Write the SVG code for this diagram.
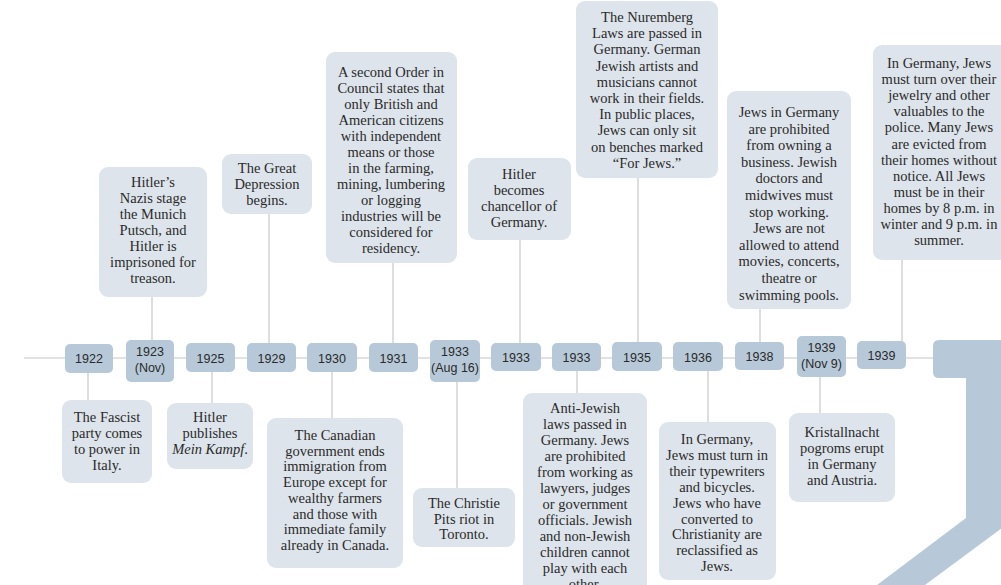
<svg xmlns="http://www.w3.org/2000/svg" width="1001" height="585" viewBox="0 0 1001 585">
<style>
.yr{fill:#b7c9d8}
.cb{fill:#dee4eb}
.yt{font-family:"Liberation Sans",Arial,sans-serif;font-size:12.5px;fill:#2a2a2a;text-anchor:middle}
.ct{font-family:"Liberation Serif","Times New Roman",serif;font-size:14.5px;fill:#2a2a2a;text-anchor:middle}
.ln{stroke:#d6d6d6;stroke-width:1.6;fill:none}
.tl{stroke:#e2e2e2;stroke-width:2;fill:none}
</style>
<rect width="1001" height="585" fill="#ffffff"/>
<g id="connectors">
<line class="tl" x1="24" y1="358" x2="934" y2="358"/>
<line class="ln" x1="152" y1="297" x2="152" y2="340"/>
<line class="ln" x1="269" y1="214" x2="269" y2="343"/>
<line class="ln" x1="393" y1="263" x2="393" y2="343"/>
<line class="ln" x1="520" y1="240" x2="520" y2="343"/>
<line class="ln" x1="638" y1="178" x2="638" y2="343"/>
<line class="ln" x1="760" y1="309" x2="760" y2="343"/>
<line class="ln" x1="902" y1="260" x2="902" y2="341"/>
<line class="ln" x1="88" y1="373" x2="88" y2="400"/>
<line class="ln" x1="212" y1="372" x2="212" y2="403"/>
<line class="ln" x1="332" y1="372" x2="332" y2="418"/>
<line class="ln" x1="457" y1="382" x2="457" y2="488"/>
<line class="ln" x1="577" y1="371" x2="577" y2="393"/>
<line class="ln" x1="708" y1="371" x2="708" y2="422"/>
<line class="ln" x1="820" y1="377" x2="820" y2="413"/>
</g>
<g id="arrow-shape">
<path class="yr" d="M939 340 L1010 340 L1010 522 L925 585 L877 585 L966 518 L966 378 L939 378 Q933 378 933 372 L933 346 Q933 340 939 340 Z"/>
</g>
<g id="y1922"><rect class="yr" x="65" y="344" width="48" height="29" rx="5"/><text class="yt" x="89" y="363">1922</text></g>
<g id="y1923"><rect class="yr" x="126" y="340" width="48" height="42" rx="5"/><text class="yt" x="150" y="356">1923</text><text class="yt" x="150" y="372">(Nov)</text></g>
<g id="y1925"><rect class="yr" x="186" y="343" width="49" height="29" rx="5"/><text class="yt" x="210.5" y="362.5">1925</text></g>
<g id="y1929"><rect class="yr" x="247" y="343" width="49" height="29" rx="5"/><text class="yt" x="271.5" y="362.5">1929</text></g>
<g id="y1930"><rect class="yr" x="307" y="343" width="50" height="29" rx="5"/><text class="yt" x="332" y="362.5">1930</text></g>
<g id="y1931"><rect class="yr" x="369" y="343" width="49" height="29" rx="5"/><text class="yt" x="393.5" y="362.5">1931</text></g>
<g id="y1933aug"><rect class="yr" x="430" y="340" width="50" height="42" rx="5"/><text class="yt" x="455" y="356">1933</text><text class="yt" x="455" y="372">(Aug 16)</text></g>
<g id="y1933a"><rect class="yr" x="491" y="343" width="50" height="28" rx="5"/><text class="yt" x="516" y="362">1933</text></g>
<g id="y1933b"><rect class="yr" x="552" y="343" width="49" height="28" rx="5"/><text class="yt" x="576.5" y="362">1933</text></g>
<g id="y1935"><rect class="yr" x="612" y="342" width="50" height="29" rx="5"/><text class="yt" x="637" y="361.5">1935</text></g>
<g id="y1936"><rect class="yr" x="673" y="342" width="50" height="29" rx="5"/><text class="yt" x="698" y="361.5">1936</text></g>
<g id="y1938"><rect class="yr" x="735" y="342" width="49" height="28" rx="5"/><text class="yt" x="759.5" y="361">1938</text></g>
<g id="y1939nov"><rect class="yr" x="797" y="336" width="49" height="41" rx="5"/><text class="yt" x="821.5" y="352">1939</text><text class="yt" x="821.5" y="368">(Nov 9)</text></g>
<g id="y1939"><rect class="yr" x="857" y="341" width="49" height="28" rx="5"/><text class="yt" x="881.5" y="360">1939</text></g>

<g id="e-munich"><rect class="cb" x="99" y="167" width="108" height="130" rx="9"/>
<text class="ct"><tspan x="153" y="187">Hitler’s</tspan><tspan x="153" y="203">Nazis stage</tspan><tspan x="153" y="219">the Munich</tspan><tspan x="153" y="235">Putsch, and</tspan><tspan x="153" y="251">Hitler is</tspan><tspan x="153" y="267">imprisoned for</tspan><tspan x="153" y="283">treason.</tspan></text></g>

<g id="e-depression"><rect class="cb" x="222" y="154" width="90" height="60" rx="9"/>
<text class="ct"><tspan x="267" y="173">The Great</tspan><tspan x="267" y="189">Depression</tspan><tspan x="267" y="205">begins.</tspan></text></g>

<g id="e-order"><rect class="cb" x="326" y="52" width="131" height="211" rx="9"/>
<text class="ct"><tspan x="391" y="77">A second Order in</tspan><tspan x="391" y="93">Council states that</tspan><tspan x="391" y="109">only British and</tspan><tspan x="391" y="125">American citizens</tspan><tspan x="391" y="141">with independent</tspan><tspan x="391" y="157">means or those</tspan><tspan x="391" y="173">in the farming,</tspan><tspan x="391" y="189">mining, lumbering</tspan><tspan x="391" y="205">or logging</tspan><tspan x="391" y="221">industries will be</tspan><tspan x="391" y="237">considered for</tspan><tspan x="391" y="253">residency.</tspan></text></g>

<g id="e-chancellor"><rect class="cb" x="468" y="158" width="103" height="82" rx="9"/>
<text class="ct"><tspan x="519" y="179">Hitler</tspan><tspan x="519" y="195">becomes</tspan><tspan x="519" y="211">chancellor of</tspan><tspan x="519" y="227">Germany.</tspan></text></g>

<g id="e-nuremberg"><rect class="cb" x="576" y="1" width="142" height="177" rx="9"/>
<text class="ct"><tspan x="647" y="22">The Nuremberg</tspan><tspan x="647" y="38.2">Laws are passed in</tspan><tspan x="647" y="54.4">Germany. German</tspan><tspan x="647" y="70.6">Jewish artists and</tspan><tspan x="647" y="86.8">musicians cannot</tspan><tspan x="647" y="103">work in their fields.</tspan><tspan x="647" y="119.2">In public places,</tspan><tspan x="647" y="135.4">Jews can only sit</tspan><tspan x="647" y="151.6">on benches marked</tspan><tspan x="647" y="167.8">“For Jews.”</tspan></text></g>

<g id="e-business"><rect class="cb" x="727" y="91" width="124" height="218" rx="9"/>
<text class="ct"><tspan x="789" y="117">Jews in Germany</tspan><tspan x="789" y="133.6">are prohibited</tspan><tspan x="789" y="150.2">from owning a</tspan><tspan x="789" y="166.8">business. Jewish</tspan><tspan x="789" y="183.4">doctors and</tspan><tspan x="789" y="200">midwives must</tspan><tspan x="789" y="216.6">stop working.</tspan><tspan x="789" y="233.2">Jews are not</tspan><tspan x="789" y="249.8">allowed to attend</tspan><tspan x="789" y="266.4">movies, concerts,</tspan><tspan x="789" y="283">theatre or</tspan><tspan x="789" y="299.6">swimming pools.</tspan></text></g>

<g id="e-jewelry"><rect class="cb" x="873" y="45" width="140" height="215" rx="9"/>
<text class="ct"><tspan x="939" y="68">In Germany, Jews</tspan><tspan x="939" y="84.1">must turn over their</tspan><tspan x="939" y="100.2">jewelry and other</tspan><tspan x="939" y="116.3">valuables to the</tspan><tspan x="939" y="132.4">police. Many Jews</tspan><tspan x="939" y="148.5">are evicted from</tspan><tspan x="939" y="164.6">their homes without</tspan><tspan x="939" y="180.7">notice. All Jews</tspan><tspan x="939" y="196.8">must be in their</tspan><tspan x="939" y="212.9">homes by 8 p.m. in</tspan><tspan x="939" y="229">winter and 9 p.m. in</tspan><tspan x="939" y="245.1">summer.</tspan></text></g>

<g id="e-fascist"><rect class="cb" x="62" y="400" width="90" height="83" rx="9"/>
<text class="ct"><tspan x="107" y="422">The Fascist</tspan><tspan x="107" y="438">party comes</tspan><tspan x="107" y="454">to power in</tspan><tspan x="107" y="470">Italy.</tspan></text></g>

<g id="e-kampf"><rect class="cb" x="167" y="403" width="86" height="66" rx="9"/>
<text class="ct"><tspan x="210" y="422">Hitler</tspan><tspan x="210" y="438">publishes</tspan><tspan x="210" y="454"><tspan font-style="italic">Mein Kampf</tspan>.</tspan></text></g>

<g id="e-canada"><rect class="cb" x="267" y="418" width="136" height="150" rx="9"/>
<text class="ct"><tspan x="335" y="440">The Canadian</tspan><tspan x="335" y="455.7">government ends</tspan><tspan x="335" y="471.4">immigration from</tspan><tspan x="335" y="487.1">Europe except for</tspan><tspan x="335" y="502.8">wealthy farmers</tspan><tspan x="335" y="518.5">and those with</tspan><tspan x="335" y="534.2">immediate family</tspan><tspan x="335" y="549.9">already in Canada.</tspan></text></g>

<g id="e-christie"><rect class="cb" x="413" y="488" width="102" height="59" rx="9"/>
<text class="ct"><tspan x="464" y="508">The Christie</tspan><tspan x="464" y="523.5">Pits riot in</tspan><tspan x="464" y="539">Toronto.</tspan></text></g>

<g id="e-antijewish"><rect class="cb" x="523" y="393" width="124" height="200" rx="9"/>
<text class="ct"><tspan x="585" y="413">Anti-Jewish</tspan><tspan x="585" y="429">laws passed in</tspan><tspan x="585" y="445">Germany. Jews</tspan><tspan x="585" y="461">are prohibited</tspan><tspan x="585" y="477">from working as</tspan><tspan x="585" y="493">lawyers, judges</tspan><tspan x="585" y="509">or government</tspan><tspan x="585" y="525">officials. Jewish</tspan><tspan x="585" y="541">and non-Jewish</tspan><tspan x="585" y="557">children cannot</tspan><tspan x="585" y="573">play with each</tspan><tspan x="585" y="589">other.</tspan></text></g>

<g id="e-typewriters"><rect class="cb" x="659" y="422" width="117" height="158" rx="9"/>
<text class="ct"><tspan x="717" y="444">In Germany,</tspan><tspan x="717" y="459.9">Jews must turn in</tspan><tspan x="717" y="475.8">their typewriters</tspan><tspan x="717" y="491.7">and bicycles.</tspan><tspan x="717" y="507.6">Jews who have</tspan><tspan x="717" y="523.5">converted to</tspan><tspan x="717" y="539.4">Christianity are</tspan><tspan x="717" y="555.3">reclassified as</tspan><tspan x="717" y="571.2">Jews.</tspan></text></g>

<g id="e-kristallnacht"><rect class="cb" x="789" y="413" width="106" height="89" rx="9"/>
<text class="ct"><tspan x="842" y="437">Kristallnacht</tspan><tspan x="842" y="453">pogroms erupt</tspan><tspan x="842" y="469">in Germany</tspan><tspan x="842" y="485">and Austria.</tspan></text></g>
</svg>
